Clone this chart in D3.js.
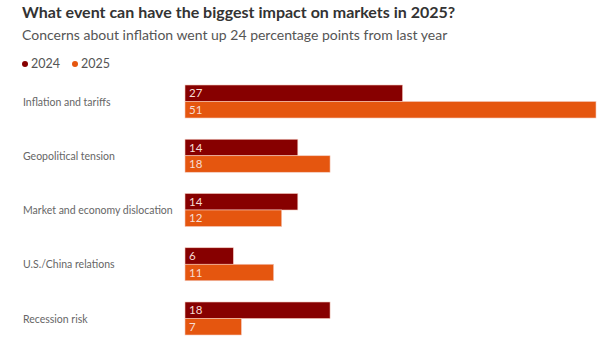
<!DOCTYPE html>
<html>
<head>
<meta charset="utf-8">
<script src="https://cdn.jsdelivr.net/npm/d3@7"></script>
<style>
  body { margin: 0; background: #fff; }
  svg { display: block; font-family: Lato, "Open Sans", sans-serif; }
</style>
</head>
<body>
<svg id="chart" width="597" height="343"></svg>
<script>
// Chart data
const categories = ["Inflation and tariffs", "Geopolitical tension", "Market and economy dislocation", "U.S./China relations", "Recession risk"];
const seriesNames = ["2024", "2025"];
const values2024 = [27, 14, 14, 6, 18];
const values2025 = [51, 18, 12, 11, 7];

const colors = { "2024": "#870000", "2025": "#e5560f" };

const svg = d3.select("#chart");

// Title and subtitle
svg.append("text")
    .attr("x", 22).attr("y", 18)
    .style("font-size", "16px").style("font-weight", "700").style("fill", "#333")
    .text("What event can have the biggest impact on markets in 2025?");

svg.append("text")
    .attr("x", 22).attr("y", 40)
    .style("font-size", "14px").style("font-weight", "400").style("fill", "#555")
    .text("Concerns about inflation went up 24 percentage points from last year");

// Legend
const legend = svg.append("g").attr("transform", "translate(22,68)");
let lx = 0;
seriesNames.forEach(name => {
    legend.append("circle").attr("cx", lx + 3).attr("cy", -4).attr("r", 3).style("fill", colors[name]);
    legend.append("text").attr("x", lx + 9).attr("y", 0)
        .style("font-size", "12.5px").style("fill", "#555").text(name);
    lx += 50;
});

// Scales
const x = d3.scaleLinear().domain([0, 51]).range([185, 596]);
const y = d3.scaleBand().domain(categories).range([85, 356.25]).paddingInner(0);
const barH = 16.5;

const rows = categories.map((c, i) => ({ cat: c, v: [values2024[i], values2025[i]] }));

const group = svg.append("g").selectAll("g")
    .data(rows)
    .enter().append("g")
    .attr("transform", d => `translate(0,${y(d.cat)})`);

// Category labels
group.append("text")
    .attr("x", 23).attr("y", barH + 4)
    .style("font-size", "10.5px").style("fill", "#666")
    .text(d => d.cat);

seriesNames.forEach((name, si) => {
    group.append("rect")
        .attr("x", x(0))
        .attr("y", si * barH)
        .attr("width", d => x(d.v[si]) - x(0))
        .attr("height", barH)
        .style("fill", colors[name])
        .style("stroke", "#f3c9bd")
        .style("stroke-width", 0.6);

    group.append("text")
        .attr("x", x(0) + 4)
        .attr("y", si * barH + barH / 2 + 4)
        .style("font-size", "11.5px").style("fill", "#f6dcd4")
        .text(d => d.v[si]);
});
</script>
</body>
</html>
